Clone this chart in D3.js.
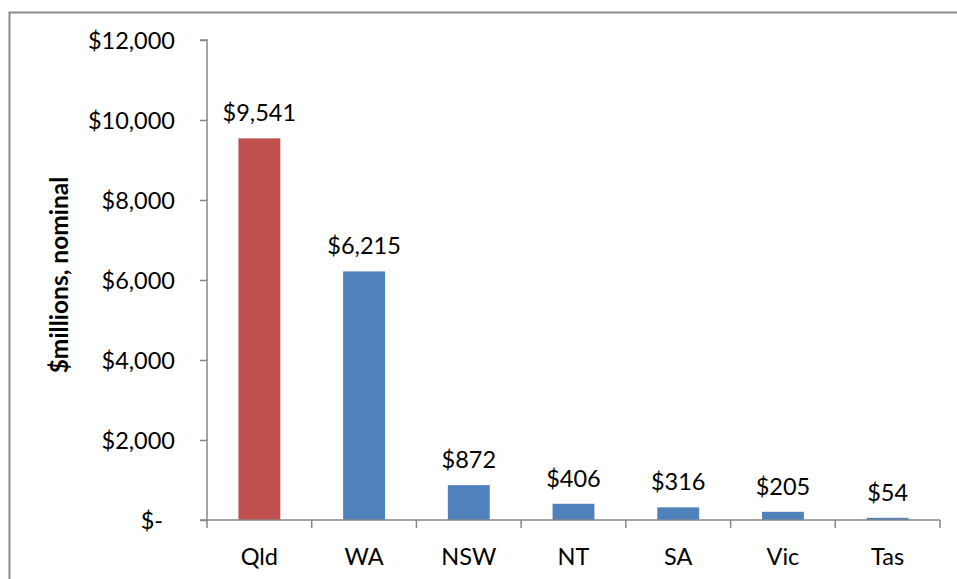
<!DOCTYPE html>
<html lang="en">
<head>
  <meta charset="UTF-8">
  <title>$millions, nominal by state</title>
  <script src="https://d3js.org/d3.v7.min.js"></script>
  <style>
    body { margin: 0; background: #fff; }
    text { font-family: Lato, "Open Sans", sans-serif; fill: #000; }
  </style>
</head>
<body>
  <div id="chart"></div>

  <script>
    // chart data
    const states = ["Qld", "WA", "NSW", "NT", "SA", "Vic", "Tas"];
    const values = [9541, 6215, 872, 406, 316, 205, 54];
    const barColors = ["#c0504d", "#4f81bd", "#4f81bd", "#4f81bd", "#4f81bd", "#4f81bd", "#4f81bd"];
    const yTicks = [0, 2000, 4000, 6000, 8000, 10000, 12000];
    const yTickLabels = ["$-", "$2,000", "$4,000", "$6,000", "$8,000", "$10,000", "$12,000"];
    const valueLabels = ["$9,541", "$6,215", "$872", "$406", "$316", "$205", "$54"];

    const W = 957, H = 579;
    const margin = { top: 40, right: 17, bottom: 59, left: 207 };
    const width = W - margin.left - margin.right;
    const height = H - margin.top - margin.bottom;
    const axisColor = "#868686";
    const fontSize = "23.5px";

    const svg = d3.select("#chart").append("svg")
      .attr("width", W)
      .attr("height", H);

    // outer frame (clipped on right and bottom)
    svg.append("path")
      .attr("d", `M9.5,${H + 5}V12.5H${W + 5}`)
      .attr("fill", "none")
      .attr("stroke", "#8c8c8c")
      .attr("stroke-width", 2);

    const g = svg.append("g")
      .attr("transform", `translate(${margin.left},${margin.top})`);

    const x = d3.scaleBand()
      .domain(states)
      .range([0, width])
      .padding(0);

    const y = d3.scaleLinear()
      .domain([0, 12000])
      .range([height, 0]);

    // bars
    const barW = x.bandwidth() * 0.4;
    g.selectAll(".bar")
      .data(values)
      .enter()
      .append("rect")
      .attr("class", "bar")
      .attr("x", (d, i) => x(states[i]) + (x.bandwidth() - barW) / 2)
      .attr("y", d => y(d))
      .attr("width", barW)
      .attr("height", d => height - y(d))
      .attr("fill", (d, i) => barColors[i]);

    // value labels
    g.selectAll(".val")
      .data(values)
      .enter()
      .append("text")
      .attr("class", "val")
      .attr("x", (d, i) => x(states[i]) + x.bandwidth() / 2)
      .attr("y", d => y(d) - 17)
      .attr("text-anchor", "middle")
      .style("font-size", fontSize)
      .text((d, i) => valueLabels[i]);

    // y axis
    const yAxis = g.append("g")
      .call(d3.axisLeft(y)
        .tickValues(yTicks)
        .tickSize(7)
        .tickPadding(25)
        .tickFormat((d, i) => yTickLabels[i]));
    yAxis.selectAll("line, path").attr("stroke", axisColor).attr("stroke-width", 1.5);
    yAxis.select(".domain").attr("d", `M-7,${height}H0V0H-7`);
    yAxis.selectAll("text")
      .style("font-size", fontSize)
      .attr("dy", "0.35em")
      .attr("dx", d => d === 0 ? -12 : 0);

    // x axis
    const xAxis = g.append("g")
      .attr("transform", `translate(0,${height})`)
      .call(d3.axisBottom(x).tickSize(0).tickPadding(28));
    xAxis.select(".domain").attr("stroke", axisColor).attr("stroke-width", 1.5)
      .attr("d", `M0,0H${width}`);
    xAxis.selectAll("text").style("font-size", fontSize);

    // category separator ticks
    g.append("g")
      .selectAll("line")
      .data(states.concat(["end"]))
      .enter()
      .append("line")
      .attr("x1", (d, i) => i * x.step())
      .attr("x2", (d, i) => i * x.step())
      .attr("y1", height)
      .attr("y2", height + 8)
      .attr("stroke", axisColor)
      .attr("stroke-width", 1.5);

    // y axis title
    svg.append("text")
      .attr("transform", `translate(68,275) rotate(-90)`)
      .attr("text-anchor", "middle")
      .style("font-size", "24.5px")
      .style("font-weight", "bold")
      .text("$millions, nominal");
  </script>
</body>
</html>
